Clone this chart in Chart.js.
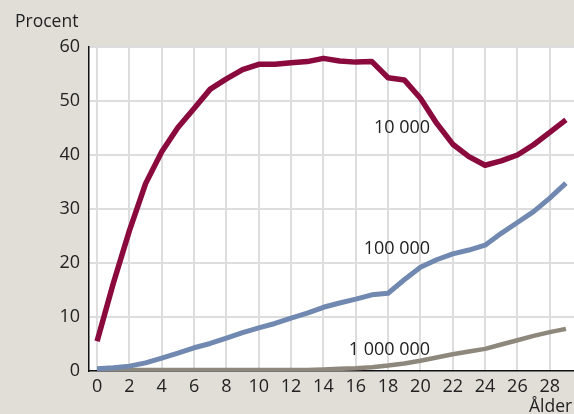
<!DOCTYPE html>
<html>
<head>
<meta charset="utf-8">
<script src="https://cdn.jsdelivr.net/npm/chart.js@4/dist/chart.umd.min.js"></script>
<style>
  html, body { margin:0; padding:0; background:#e1ded8; }
  #wrap { width:574px; height:414px; position:relative; }
</style>
</head>
<body>
<div id="wrap"><canvas id="chart"></canvas></div>
<script>
// ålder 0..29
const ages = [0,1,2,3,4,5,6,7,8,9,10,11,12,13,14,15,16,17,18,19,20,21,22,23,24,25,26,27,28,29];
const xTicks = [0,2,4,6,8,10,12,14,16,18,20,22,24,26,28];
const s10k = [5.5,16.2,26.0,34.7,40.6,45.1,48.6,52.2,54.1,55.8,56.8,56.8,57.1,57.3,57.9,57.4,57.2,57.3,54.3,53.9,50.5,45.9,42.0,39.7,38.1,38.9,40.0,41.9,44.2,46.5];
const s100k = [0.4,0.6,0.9,1.5,2.4,3.3,4.3,5.1,6.1,7.1,8.0,8.8,9.8,10.7,11.8,12.6,13.3,14.1,14.4,16.9,19.2,20.6,21.7,22.4,23.3,25.5,27.5,29.5,32.0,34.8];
const s1m = [0.2,0.2,0.2,0.2,0.2,0.2,0.2,0.2,0.2,0.2,0.2,0.2,0.2,0.2,0.3,0.4,0.5,0.7,1.0,1.4,1.9,2.5,3.1,3.6,4.1,4.9,5.7,6.5,7.2,7.8];
const seriesNames = ['10 000','100 000','1 000 000'];
// where the series labels sit (x = right end, y = middle), in data units
const labelX = [20.6, 20.6, 20.6];
const labelY = [45, 22.6, 3.9];

const FONT = '"Open Sans", "Noto Sans", sans-serif';
const txt = '#222';

function pts(vals){ return ages.map((a,i)=>({x:a, y:vals[i]})) }

const bgPlugin = {
  id:'bg',
  beforeDraw(chart){
    const c = chart.ctx, a = chart.chartArea;
    c.save();
    c.fillStyle = '#e1ded8';
    c.fillRect(0,0,chart.width,chart.height);
    c.fillStyle = '#ffffff';
    c.fillRect(a.left,a.top,a.right-a.left,a.bottom-a.top);
    c.restore();
  }
};

const textPlugin = {
  id:'texts',
  afterDraw(chart){
    const c = chart.ctx, xs = chart.scales.x, ys = chart.scales.y;
    c.save();
    c.fillStyle = txt;
    c.font = '17.5px ' + FONT;
    c.textBaseline = 'alphabetic';
    c.textAlign = 'left';
    c.fillText('Procent', 15, 27);
    c.fillText('Ålder', 529, 412);
    c.font = '18px ' + FONT;
    c.textAlign = 'right';
    c.textBaseline = 'middle';
    seriesNames.forEach((n,i)=>{
      c.fillText(n, xs.getPixelForValue(labelX[i]), ys.getPixelForValue(labelY[i]));
    });
    c.restore();
  }
};

new Chart('chart', {
  type:'line',
  data:{
    datasets:[
      {data:pts(s10k), borderColor:'#8a0a3e', borderWidth:5.5},
      {data:pts(s100k), borderColor:'#7189b1', borderWidth:5},
      {data:pts(s1m), borderColor:'#8e877b', borderWidth:4.5}
    ]
  },
  options:{
    responsive:true,
    maintainAspectRatio:false,
    animation:false,
    layout:{padding:{top:47, right:0, left:0, bottom:0}},
    elements:{point:{radius:0}, line:{tension:0, borderCapStyle:'butt', borderJoinStyle:'round'}},
    plugins:{legend:{display:false}, tooltip:{enabled:false}},
    scales:{
      x:{
        type:'linear', min:-0.5, max:29.5,
        grid:{color:'#dddddd', lineWidth:2, drawTicks:false},
        border:{color:'#111', width:1.5},
        ticks:{color:txt, padding:5, maxRotation:0, autoSkip:false, font:{family:FONT, size:18}},
        afterBuildTicks(s){ s.ticks = xTicks.map(v=>({value:v})); },
        afterFit(s){ s.height = 43; s.paddingRight = 0; s.paddingLeft = 0; }
      },
      y:{
        min:0, max:60,
        grid:{color:'#dddddd', lineWidth:2, drawTicks:false},
        border:{color:'#111', width:1.5},
        ticks:{stepSize:10, color:txt, padding:9, font:{family:FONT, size:18}},
        afterFit(s){ s.width = 89; s.paddingTop = 0; s.paddingBottom = 0; }
      }
    }
  },
  plugins:[bgPlugin, textPlugin]
});
</script>
</body>
</html>
